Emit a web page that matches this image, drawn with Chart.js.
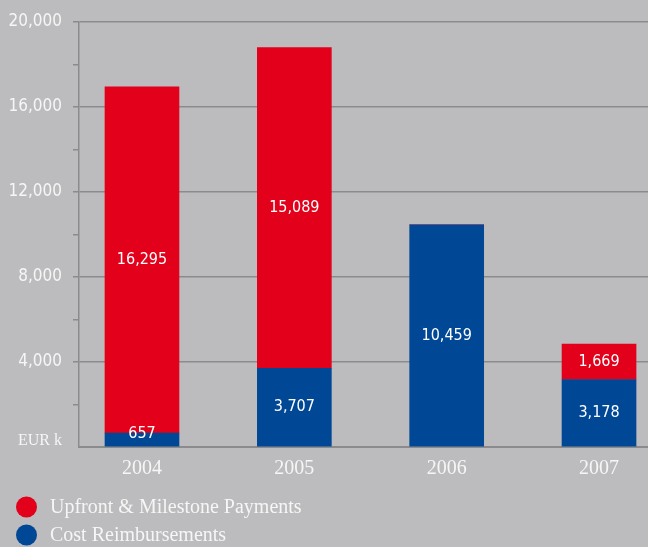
<!DOCTYPE html>
<html>
<head>
<meta charset="utf-8">
<script src="https://cdn.jsdelivr.net/npm/chart.js@4"></script>
<style>
  html, body { margin: 0; padding: 0; background: #bcbcbe; }
  #wrap { width: 648px; height: 547px; }
</style>
</head>
<body>
<div id="wrap"><canvas id="revenueChart" width="648" height="547"></canvas></div>
<script>
// revenue per year, EUR k
const years = ["2004", "2005", "2006", "2007"];
const costReimbursements = [657, 3707, 10459, 3178];
const milestonePayments = [16295, 15089, 0, 1669];
const yTicks = [0, 2000, 4000, 6000, 8000, 10000, 12000, 14000, 16000, 18000, 20000];

const RED = "#e2001a";
const BLUE = "#004895";
const GRID = "#8b8b8d";
const TEXT = "#f6f6f6";
const SANS = "'DejaVu Sans Condensed', 'Liberation Sans Narrow', 'DejaVu Sans', sans-serif";
const SERIF = "'Liberation Serif', 'DejaVu Serif', serif";

// white value labels inside each bar segment
const segmentLabels = {
  id: "segmentLabels",
  afterDatasetsDraw(chart) {
    const ctx = chart.ctx;
    ctx.save();
    ctx.fillStyle = "#ffffff";
    ctx.font = "16px " + SANS;
    ctx.textAlign = "center";
    ctx.textBaseline = "middle";
    chart.data.datasets.forEach((ds, di) => {
      const meta = chart.getDatasetMeta(di);
      meta.data.forEach((bar, i) => {
        const v = ds.data[i].y;
        if (!v) return;
        const p = bar.getProps(["x", "y", "base"], true);
        let cy = (p.y + p.base) / 2;
        if (p.base - p.y < 20) cy = p.y + 1;
        ctx.fillText(v.toLocaleString("en-US"), p.x, cy);
      });
    });
    ctx.restore();
  }
};

// legend with round markers, stacked below the axis
const roundLegend = {
  id: "roundLegend",
  afterDraw(chart) {
    const ctx = chart.ctx;
    const items = chart.data.datasets.slice().reverse();
    ctx.save();
    ctx.font = "20px " + SERIF;
    ctx.textBaseline = "middle";
    ctx.textAlign = "left";
    items.forEach((ds, i) => {
      const y = 507 + i * 28;
      ctx.beginPath();
      ctx.arc(26.5, y, 10.5, 0, Math.PI * 2);
      ctx.fillStyle = ds.backgroundColor;
      ctx.fill();
      ctx.fillStyle = TEXT;
      ctx.fillText(ds.label, 50, y + 1);
    });
    ctx.restore();
  }
};

new Chart(document.getElementById("revenueChart"), {
  type: "bar",
  data: {
    datasets: [
      {
        label: "Cost Reimbursements",
        data: costReimbursements.map((v, i) => ({ x: i, y: v })),
        backgroundColor: BLUE,
        barThickness: 74,
      },
      {
        label: "Upfront & Milestone Payments",
        data: milestonePayments.map((v, i) => ({ x: i, y: v })),
        backgroundColor: RED,
        barThickness: 74,
      },
    ],
  },
  options: {
    responsive: false,
    animation: false,
    layout: { padding: { top: 22, right: 0, bottom: 69, left: 0 } },
    plugins: {
      legend: { display: false },
      tooltip: { enabled: false },
    },
    scales: {
      x: {
        type: "linear",
        stacked: true,
        offset: false,
        min: -0.4135,
        max: 3.3215,
        afterBuildTicks: (s) => { s.ticks = years.map((_, i) => ({ value: i })); },
        afterFit: (s) => { s.height = 31; },
        grid: { display: false, offset: false },
        border: { display: true, color: GRID, width: 2 },
        ticks: {
          autoSkip: false,
          maxRotation: 0,
          padding: 2,
          color: TEXT,
          font: { family: SERIF, size: 20 },
          callback: (v) => years[v],
        },
      },
      y: {
        stacked: true,
        min: 0,
        max: 20000,
        afterBuildTicks: (s) => { s.ticks = yTicks.map((v) => ({ value: v })); },
        afterFit: (s) => { s.width = 79; },
        border: { display: true, color: GRID, width: 1.5 },
        grid: {
          lineWidth: 1.5,
          tickLength: 6,
          color: (c) => (c.tick && c.tick.value % 4000 === 0 && c.tick.value !== 0 ? GRID : "transparent"),
          tickColor: (c) => (c.tick && c.tick.value !== 0 ? GRID : "transparent"),
        },
        ticks: {
          autoSkip: false,
          padding: 11,
          color: TEXT,
          font: (c) => (c.tick && c.tick.value === 0
            ? { family: SERIF, size: 16, lineHeight: 0.75 }
            : { family: SANS, size: 17 }),
          // unit label sits a little above the zero line
          callback: (v) => (v === 0 ? ["EUR k", ""] : v % 4000 === 0 ? v.toLocaleString("en-US") : ""),
        },
      },
    },
  },
  plugins: [segmentLabels, roundLegend],
});
</script>
</body>
</html>
